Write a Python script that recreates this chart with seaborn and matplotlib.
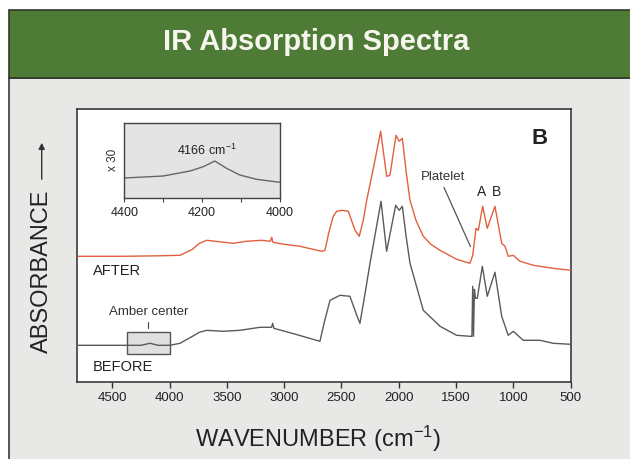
import matplotlib
matplotlib.use("Agg")
import matplotlib.pyplot as plt
from matplotlib.patches import Rectangle, FancyArrowPatch
import seaborn as sns
import pandas as pd

# ---------------- data ----------------
after_wn = [4800, 4400, 4100, 3909, 3800, 3740, 3676, 3600, 3447, 3330, 3196, 3120, 3109, 3098,
            3000, 2862, 2673, 2644, 2610, 2572, 2542, 2490, 2441, 2382, 2345, 2310, 2280, 2220,
            2158, 2106, 2077, 2024, 1996, 1969, 1935, 1902, 1850, 1786, 1720, 1640, 1495, 1379,
            1355, 1326, 1306, 1268, 1228, 1161, 1102, 1073, 1045, 1001, 942, 826, 654, 500]
after_abs = [1.26, 1.26, 1.265, 1.27, 1.33, 1.39, 1.42, 1.41, 1.39, 1.41, 1.42, 1.41, 1.45, 1.40,
             1.38, 1.36, 1.31, 1.32, 1.50, 1.66, 1.71, 1.72, 1.71, 1.52, 1.46, 1.62, 1.82, 2.15,
             2.51, 2.06, 2.07, 2.47, 2.41, 2.44, 2.10, 1.82, 1.62, 1.46, 1.38, 1.32, 1.23, 1.19,
             1.27, 1.54, 1.52, 1.76, 1.54, 1.76, 1.39, 1.36, 1.26, 1.27, 1.21, 1.17, 1.14, 1.12]

before_wn = [4800, 4374, 4250, 4171, 4100, 3997, 3909, 3800, 3740, 3676, 3531, 3386, 3211, 3110,
             3100, 3090, 2900, 2688, 2650, 2600, 2513, 2426, 2370, 2339, 2300, 2251, 2155, 2106,
             2027, 1996, 1969, 1935, 1902, 1786, 1640, 1495, 1379, 1362, 1355, 1348, 1340, 1331,
             1315, 1271, 1228, 1161, 1102, 1045, 1001, 914, 768, 652, 500]
before_abs = [0.37, 0.37, 0.37, 0.39, 0.37, 0.37, 0.39, 0.46, 0.50, 0.52, 0.51, 0.52, 0.55, 0.55,
              0.59, 0.54, 0.48, 0.41, 0.60, 0.82, 0.87, 0.86, 0.68, 0.59, 0.85, 1.19, 1.81, 1.31,
              1.77, 1.72, 1.76, 1.45, 1.19, 0.72, 0.56, 0.47, 0.46, 0.46, 0.96, 0.46, 0.93, 0.84,
              0.84, 1.16, 0.86, 1.10, 0.66, 0.47, 0.51, 0.42, 0.42, 0.39, 0.38]

inset_wn = [4400, 4300, 4231, 4197, 4167, 4137, 4103, 4060, 4000]
inset_abs = [19.5, 21.5, 26.5, 30.8, 36.5, 29.2, 22.5, 18.2, 15.2]

x_ticks = [4500, 4000, 3500, 3000, 2500, 2000, 1500, 1000, 500]
inset_ticks = [4400, 4200, 4000]
inset_minor = [4300, 4100]

# ---------------- style ----------------
sns.set_theme(style="white")
plt.rcParams["font.family"] = ["Liberation Sans", "DejaVu Sans"]
plt.rcParams["mathtext.default"] = "regular"

W, H = 630, 459
fig = plt.figure(figsize=(W / 100, H / 100), dpi=100, facecolor="white")

def fx(px):
    return px / W

def fy(py):
    return 1 - py / H

# background panel and green banner
panel = Rectangle((fx(9), -0.01), fx(630 - 9) + 0.01, fy(78) + 0.01, transform=fig.transFigure,
                  facecolor="#e8e8e6", edgecolor="#3a3a3a", lw=1.2, zorder=-10)
banner = Rectangle((fx(9), fy(78)), fx(630 - 9) + 0.01, (78 - 10) / H, transform=fig.transFigure,
                   facecolor="#4e7b35", edgecolor="#2f3a2a", lw=1.2, zorder=-9)
fig.add_artist(panel)
fig.add_artist(banner)
fig.text(fx(316), fy(42), "IR Absorption Spectra", color="#f6f6ee", fontsize=21,
         fontweight="bold", ha="center", va="center")

RED = "#e2603f"
GRAY = "#5a5a5a"

# ---------------- main axes ----------------
ax = fig.add_axes([fx(77.3), fy(382.3), fx(570.7 - 77.3), (382.3 - 108.5) / H])
ax.set_zorder(1)
ax.set_facecolor("white")

df_after = pd.DataFrame({"wn": after_wn, "a": after_abs})
df_before = pd.DataFrame({"wn": before_wn, "a": before_abs})
sns.lineplot(data=df_after, x="wn", y="a", ax=ax, color=RED, lw=1.0, sort=False, estimator=None, zorder=3)
sns.lineplot(data=df_before, x="wn", y="a", ax=ax, color=GRAY, lw=1.0, sort=False, estimator=None, zorder=3)

ax.set_xlim(4805, 500)
ax.set_ylim(0, 2.738)
ax.set_xticks(x_ticks)
ax.set_xticklabels([str(t) for t in x_ticks])
ax.set_yticks([])
ax.set_xlabel("")
ax.set_ylabel("")
ax.tick_params(axis="x", direction="out", length=4, width=1, color="#333333",
               labelsize=9.5, labelcolor="#222222", pad=3, bottom=True)
for s in ax.spines.values():
    s.set_color("#3a3a3a")
    s.set_linewidth(1.2)

# amber center box
ax.add_patch(Rectangle((4370, 0.283), 4000 - 4370, 0.223, facecolor="#e0e0e0",
                       edgecolor="#555555", lw=1.0, zorder=2))
ax.text(4186, 0.70, "Amber center", fontsize=9.5, color="#333333", ha="center", va="center")
ax.plot([4186, 4186], [0.60, 0.54], color="#444444", lw=0.8)

# labels
ax.text(4666, 1.11, "AFTER", fontsize=10.5, color="#222222", ha="left", va="center")
ax.text(4666, 0.156, "BEFORE", fontsize=10.5, color="#222222", ha="left", va="center")
ax.text(776, 2.44, "B", fontsize=16, fontweight="bold", color="#222222", ha="center", va="center")
ax.text(1612, 2.05, "Platelet", fontsize=9.5, color="#333333", ha="center", va="center")
ax.plot([1606, 1374], [1.95, 1.356], color="#555555", lw=0.9)
ax.text(1277, 1.90, "A", fontsize=10, color="#222222", ha="center", va="center")
ax.text(1146, 1.90, "B", fontsize=10, color="#222222", ha="center", va="center")

# axis titles
fig.text(fx(41.7), fy(271.7), "ABSORBANCE", rotation=90, fontsize=17, color="#222222",
         ha="center", va="center")
fig.add_artist(FancyArrowPatch((fx(41.7), fy(182)), (fx(41.7), fy(140)),
               transform=fig.transFigure, arrowstyle="-|>", mutation_scale=9, lw=1.0,
               color="#333333"))
fig.text(fx(318), fy(439), "WAVENUMBER (cm$^{-1}$)", fontsize=17, color="#222222",
         ha="center", va="center")

# ---------------- inset ----------------
ins = fig.add_axes([fx(124.3), fy(197.5), fx(279.8 - 124.3), (197.5 - 122.7) / H])
ins.set_zorder(2)
ins.set_facecolor("#e4e4e4")
df_in = pd.DataFrame({"wn": inset_wn, "a": inset_abs})
sns.lineplot(data=df_in, x="wn", y="a", ax=ins, color="#666666", lw=1.0, sort=False, estimator=None)
ins.set_xlim(4400, 4000)
ins.set_ylim(0, 74.8)
ins.set_xticks(inset_ticks)
ins.set_xticklabels([str(t) for t in inset_ticks])
ins.set_xticks(inset_minor, minor=True)
ins.set_yticks([])
ins.set_xlabel("")
ins.set_ylabel("x 30", fontsize=8.5, color="#333333", labelpad=4)
ins.tick_params(axis="x", which="both", direction="out", length=3, width=0.8, color="#444444",
                labelsize=9, labelcolor="#222222", pad=4, bottom=True)
for s in ins.spines.values():
    s.set_color("#444444")
    s.set_linewidth(1.0)
ins.text(4188, 46.8, "4166 cm$^{-1}$", fontsize=9, color="#222222", ha="center", va="center")

fig.savefig("out.png", dpi=100, facecolor="white")
